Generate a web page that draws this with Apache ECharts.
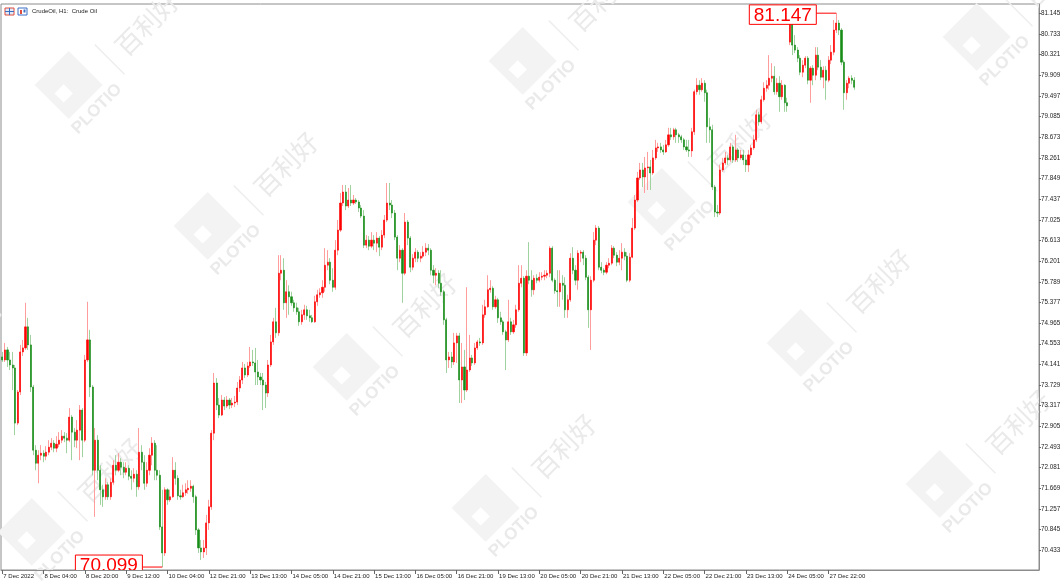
<!DOCTYPE html>
<html><head><meta charset="utf-8">
<script src="https://cdn.jsdelivr.net/npm/echarts@6/dist/echarts.min.js"></script>
<style>html,body{margin:0;padding:0;background:#fff}#c{width:1064px;height:586px}</style>
</head><body><div id="c"></div>
<script>
const tickLabels = ['7 Dec 2022','8 Dec 04:00','8 Dec 20:00','9 Dec 12:00','10 Dec 04:00','12 Dec 21:00','13 Dec 13:00','14 Dec 05:00','14 Dec 21:00','15 Dec 13:00','16 Dec 05:00','16 Dec 21:00','19 Dec 13:00','20 Dec 05:00','20 Dec 21:00','21 Dec 13:00','22 Dec 05:00','22 Dec 21:00','23 Dec 13:00','24 Dec 05:00','27 Dec 22:00'];
const yTicks = [70.433,70.845,71.257,71.669,72.081,72.493,72.905,73.317,73.729,74.141,74.553,74.965,75.377,75.789,76.201,76.613,77.025,77.437,77.849,78.261,78.673,79.085,79.497,79.909,80.321,80.733,81.145];

const opens = [
74.29,74.23,74.43,74.23,74.13,74.07,72.97,73.59,74.39,74.47,
74.89,74.53,73.69,72.43,72.17,72.33,72.37,72.31,72.39,72.49,
72.57,72.47,72.55,72.63,72.71,72.67,72.63,73.09,72.79,72.63,
72.83,73.23,72.63,74.23,74.63,73.69,72.03,72.63,72.03,71.64,
71.50,71.74,71.50,71.79,72.13,72.03,72.19,72.09,71.99,72.07,
71.91,71.87,71.95,71.70,72.39,72.19,71.77,72.03,72.33,72.57,
72.03,71.93,70.90,70.38,71.64,71.44,71.50,72.03,71.87,71.52,
71.50,71.58,71.64,71.67,71.71,71.50,70.84,70.48,70.40,70.48,
70.98,71.30,72.77,73.77,73.33,73.13,73.43,73.31,73.43,73.33,
73.37,73.39,73.67,73.83,74.07,73.93,74.11,74.19,74.17,73.99,
73.89,73.83,73.73,73.57,74.13,74.59,74.99,74.77,75.96,76.02,
75.37,75.59,75.49,75.37,75.27,75.19,74.99,75.13,75.23,75.11,
75.07,74.99,75.39,75.53,75.57,75.68,76.12,76.18,75.82,75.68,
76.42,76.82,77.36,77.58,77.30,77.42,77.36,77.42,77.38,77.26,
77.10,76.52,76.62,76.50,76.62,76.56,76.66,76.48,76.72,77.02,
77.36,77.32,77.16,76.68,76.26,76.42,75.96,76.98,76.66,76.08,
76.26,76.38,76.26,76.30,76.38,76.46,76.42,76.02,75.92,75.96,
75.76,75.59,75.03,74.23,74.29,74.19,74.57,74.71,73.83,74.09,
73.63,74.03,74.27,74.17,74.47,74.59,74.57,75.13,75.29,75.63,
75.66,75.29,75.43,75.07,74.99,74.79,74.63,74.99,74.79,74.93,
75.23,75.76,75.86,74.37,75.90,75.82,75.63,75.86,75.82,75.88,
75.90,75.92,75.96,76.46,75.82,75.61,75.59,75.76,75.72,75.23,
75.43,76.26,76.02,75.82,76.36,76.38,76.26,75.88,75.23,75.82,
76.62,76.86,76.08,76.02,75.98,76.12,76.16,76.46,76.32,76.18,
76.26,76.38,76.30,75.82,76.28,76.86,77.42,77.86,78.02,77.88,
78.06,78.08,77.96,78.26,78.46,78.48,78.42,78.38,78.52,78.72,
78.68,78.82,78.72,78.68,78.62,78.48,78.42,78.40,78.78,79.58,
79.71,79.62,79.75,79.56,78.88,78.82,77.68,77.18,77.16,78.02,
78.16,78.26,78.22,78.48,78.22,78.42,78.26,78.32,78.22,78.12,
78.32,78.46,78.62,79.12,78.98,79.42,79.65,79.71,79.85,79.89,
79.58,79.75,79.48,79.71,79.36,80.57,80.97,80.51,80.41,80.25,
79.97,80.11,80.25,79.81,80.05,79.91,80.31,80.07,79.87,80.01,
79.81,80.21,80.37,80.81,80.95,80.81,80.17,79.56,79.75,79.85,79.81];

const closes = [
74.23,74.43,74.23,74.13,74.07,72.97,73.59,74.39,74.47,74.89,
74.53,73.69,72.43,72.17,72.33,72.37,72.31,72.39,72.49,72.57,
72.47,72.55,72.63,72.71,72.67,72.63,73.09,72.79,72.63,72.83,
73.23,72.63,74.23,74.63,73.69,72.03,72.63,72.03,71.64,71.50,
71.74,71.50,71.79,72.13,72.03,72.19,72.09,71.99,72.07,71.91,
71.87,71.95,71.70,72.39,72.19,71.77,72.03,72.33,72.57,72.03,
71.93,70.90,70.38,71.64,71.44,71.50,72.03,71.87,71.52,71.50,
71.58,71.64,71.67,71.71,71.50,70.84,70.48,70.40,70.48,70.98,
71.30,72.77,73.77,73.33,73.13,73.43,73.31,73.43,73.33,73.37,
73.39,73.67,73.83,74.07,73.93,74.11,74.19,74.17,73.99,73.89,
73.83,73.73,73.57,74.13,74.59,74.99,74.77,75.96,76.02,75.37,
75.59,75.49,75.37,75.27,75.19,74.99,75.13,75.23,75.11,75.07,
74.99,75.39,75.53,75.57,75.68,76.12,76.18,75.82,75.68,76.42,
76.82,77.36,77.58,77.30,77.42,77.36,77.42,77.38,77.26,77.10,
76.52,76.62,76.50,76.62,76.56,76.66,76.48,76.72,77.02,77.36,
77.32,77.16,76.68,76.26,76.42,75.96,76.98,76.66,76.08,76.26,
76.38,76.26,76.30,76.38,76.46,76.42,76.02,75.92,75.96,75.76,
75.59,75.03,74.23,74.29,74.19,74.57,74.71,73.83,74.09,73.63,
74.03,74.27,74.17,74.47,74.59,74.57,75.13,75.29,75.63,75.66,
75.29,75.43,75.07,74.99,74.79,74.63,74.99,74.79,74.93,75.23,
75.76,75.86,74.37,75.90,75.82,75.63,75.86,75.82,75.88,75.90,
75.92,75.96,76.46,75.82,75.61,75.59,75.76,75.72,75.23,75.43,
76.26,76.02,75.82,76.36,76.38,76.26,75.88,75.23,75.82,76.62,
76.86,76.08,76.02,75.98,76.12,76.16,76.46,76.32,76.18,76.26,
76.38,76.30,75.82,76.28,76.86,77.42,77.86,78.02,77.88,78.06,
78.08,77.96,78.26,78.46,78.48,78.42,78.38,78.52,78.72,78.68,
78.82,78.72,78.68,78.62,78.48,78.42,78.40,78.78,79.58,79.71,
79.62,79.75,79.56,78.88,78.82,77.68,77.18,77.16,78.02,78.16,
78.26,78.22,78.48,78.22,78.42,78.26,78.32,78.22,78.12,78.32,
78.46,78.62,79.12,78.98,79.42,79.65,79.71,79.85,79.89,79.58,
79.75,79.48,79.71,79.36,79.30,80.97,80.51,80.41,80.25,79.97,
80.11,80.25,79.81,80.05,79.91,80.31,80.07,79.87,80.01,79.81,
80.21,80.37,80.81,80.95,80.81,80.17,79.56,79.75,79.85,79.81,79.67];

const highs = [
74.39,74.57,74.49,74.39,74.39,74.13,73.63,74.53,74.63,75.37,
75.07,74.73,73.73,72.53,72.43,72.53,72.43,72.51,72.63,72.67,
72.63,72.71,72.79,72.83,72.79,72.77,73.27,73.13,72.87,73.03,
73.33,73.27,74.33,75.39,74.83,73.73,72.87,72.73,72.13,71.74,
71.87,71.79,71.87,72.23,72.33,72.37,72.27,72.19,72.19,72.13,
72.03,72.07,72.03,72.87,72.53,72.33,72.19,72.47,72.69,72.63,
72.53,72.03,71.64,71.69,71.67,71.64,72.29,72.19,71.93,71.64,
71.74,71.77,71.83,71.83,71.74,71.54,70.88,70.64,70.64,71.14,
71.44,72.83,73.97,73.87,73.47,73.53,73.49,73.51,73.47,73.47,
73.51,73.79,73.91,74.19,74.15,74.19,74.49,74.43,74.47,74.23,
73.97,73.97,73.79,74.23,74.73,75.07,75.27,76.32,76.32,76.26,
75.82,75.72,75.59,75.43,75.37,75.27,75.23,75.33,75.31,75.23,
75.13,75.51,75.63,75.66,75.82,76.46,76.42,76.26,76.06,76.62,
77.02,77.56,77.72,77.72,77.66,77.72,77.52,77.46,77.42,77.32,
77.22,76.72,76.70,76.78,76.72,76.78,76.70,76.82,77.12,77.76,
77.76,77.42,77.22,76.72,76.52,76.46,77.16,77.02,76.70,76.34,
76.46,76.42,76.38,76.50,76.56,76.54,76.46,76.12,76.06,76.02,
76.02,75.63,75.07,74.39,74.39,74.77,74.77,74.77,74.57,74.43,
75.68,74.73,74.33,74.57,74.63,74.67,75.33,75.43,75.92,75.82,
75.70,75.51,75.47,75.19,75.03,74.83,75.43,75.07,75.03,75.33,
76.12,76.12,75.90,76.02,76.58,76.02,75.92,75.94,75.98,75.98,
76.02,76.02,76.50,76.50,75.86,76.02,76.02,75.92,75.88,75.53,
76.36,76.48,76.12,76.42,76.42,76.42,76.32,75.92,75.90,76.78,
76.92,76.90,76.18,76.06,76.18,76.26,76.52,76.50,76.38,76.42,
76.56,76.46,76.38,76.36,77.06,77.52,77.98,78.16,78.16,78.28,
78.38,78.22,78.42,78.62,78.56,78.56,78.52,78.62,78.86,78.86,
78.86,78.86,78.76,78.72,78.66,78.62,78.62,78.86,79.62,79.85,
79.81,79.85,79.81,79.62,79.06,78.92,77.72,77.32,78.12,78.26,
78.38,78.32,78.56,78.52,78.72,78.46,78.42,78.42,78.32,78.42,
78.52,78.72,79.22,79.18,79.50,79.77,79.81,80.31,80.15,80.09,
79.85,79.89,79.81,79.73,79.46,81.01,81.01,80.71,80.47,80.31,
80.21,80.29,80.29,80.09,80.11,80.47,80.47,80.21,80.09,80.09,
80.29,80.51,81.01,81.147,81.01,80.85,80.21,79.81,79.89,79.91,79.87];

const lows = [
74.19,74.19,74.09,74.03,73.63,72.73,72.93,73.53,74.31,74.43,
74.43,73.59,72.33,72.03,71.77,72.23,72.19,72.23,72.33,72.43,
72.39,72.39,72.49,72.57,72.59,72.37,72.59,72.23,72.49,72.47,
72.23,72.29,72.59,74.19,73.49,71.93,71.10,71.83,71.34,71.30,
71.44,71.44,71.44,71.74,71.93,71.99,71.93,71.87,71.93,71.83,
71.64,71.79,71.50,71.64,72.03,71.64,71.70,71.93,72.13,71.83,
71.83,70.84,70.099,70.32,71.34,71.40,71.48,71.74,71.44,71.44,
71.48,71.52,71.56,71.60,71.38,70.74,70.38,70.24,70.28,70.34,
70.84,71.24,72.63,73.23,73.07,73.11,73.23,73.27,73.25,73.27,
73.29,73.33,73.59,73.75,73.87,73.89,74.07,74.11,73.73,73.73,
73.73,73.23,73.27,73.49,74.09,74.53,74.67,74.71,75.82,75.23,
75.07,75.13,75.31,75.19,75.13,74.91,74.93,75.03,75.03,74.99,
74.97,74.97,75.31,75.47,75.47,75.59,76.02,75.74,75.59,75.63,
76.32,76.78,77.30,77.22,77.26,77.30,77.32,77.34,77.18,77.06,
76.46,76.46,76.42,76.46,76.42,76.38,76.30,76.42,76.66,76.98,
77.22,77.06,76.62,76.02,76.18,75.37,75.92,76.52,75.98,76.02,
76.18,76.18,76.18,76.26,76.30,76.32,75.92,75.76,75.72,75.66,
75.51,74.93,73.97,74.07,74.07,74.13,74.17,73.37,73.37,73.43,
73.59,73.99,74.11,74.13,74.43,74.51,74.53,75.07,75.27,75.57,
75.23,75.25,74.97,74.93,74.73,74.03,74.59,74.73,74.75,74.87,
75.19,75.68,74.31,74.31,75.74,75.49,75.53,75.76,75.78,75.82,
75.82,75.86,75.88,75.78,75.55,75.29,75.29,75.43,75.07,75.07,
75.39,75.94,75.72,75.63,76.18,76.12,75.82,74.87,74.43,75.78,
76.52,76.02,75.96,75.92,75.94,76.06,76.12,76.26,76.10,76.12,
76.02,76.22,75.78,75.78,76.26,76.82,77.38,77.82,77.68,77.56,
77.62,77.62,77.92,78.22,78.38,78.36,78.32,78.36,78.48,78.62,
78.62,78.56,78.56,78.56,78.42,78.38,78.28,78.28,78.72,79.52,
79.52,79.58,79.38,78.56,78.56,77.62,77.08,77.08,77.12,77.98,
78.12,78.12,78.18,78.16,78.18,78.18,78.22,78.12,77.98,77.98,
78.26,78.42,78.58,78.90,78.94,79.38,79.58,79.62,79.77,79.52,
79.52,79.18,79.42,79.18,79.18,80.51,80.31,80.35,80.17,79.91,
79.87,80.05,79.73,79.36,79.71,79.81,80.01,79.81,79.65,79.42,
79.77,80.13,80.31,80.75,80.71,80.11,79.22,79.42,79.65,79.73,79.62];

const BARS_PER_LABEL = 16;
const SLOTS = 402;           // visible bar slots incl. empty right margin
const Y_MIN = 70.04, Y_MAX = 81.33;

const cats = Array.from({length: SLOTS}, (_, i) => String(i));
const showTick = (i) => i % BARS_PER_LABEL === 0 && (i / BARS_PER_LABEL) < tickLabels.length;

const fullData = opens.map((o, i) => [o, closes[i], lows[i], highs[i]]);
const bodyData = opens.map((o, i) => [o, closes[i], Math.min(o, closes[i]), Math.max(o, closes[i])]);

const minVal = Math.min(...lows), maxVal = Math.max(...highs);
const extremes = [[lows.indexOf(minVal), minVal, 0], [highs.indexOf(maxVal), maxVal, 1]];

// decorative watermark tiles (text-centre anchors)
const wmTiles = [[-47,-37],[92,104],[231,245],[370,386],[509,527],[407,-61],[546,80],[685,221],[824,362],[963,503],[861,-85],[1000,56],[-84,410],[55,551],[1139,197]];
const wmText = '#eaeaea';
const graphics = [];
wmTiles.forEach(([x, y]) => {
  graphics.push({
    type: 'group', x, y, rotation: Math.PI / 4, silent: true, z: 0,
    children: [
      {type: 'rect', shape: {x: -27, y: -54, width: 48, height: 48}, style: {fill: '#f3f3f3'}},
      {type: 'rect', shape: {x: -19, y: -34, width: 13, height: 13}, style: {fill: '#ffffff'}},
      {type: 'text', x: 0, y: 7, style: {text: 'PLOTIO', font: 'bold 17px "Liberation Sans"', fill: wmText, align: 'center', verticalAlign: 'middle'}},
      {type: 'line', shape: {x1: 44, y1: -40, x2: 44, y2: 2}, style: {stroke: '#eeeeee', lineWidth: 1.5}},
      {type: 'text', x: 57, y: -18, style: {text: '百利好', font: '26px "Noto Sans CJK SC"', fill: wmText, align: 'left', verticalAlign: 'middle'}}
    ]
  });
});
// small toolbar icons next to the title
graphics.push({type: 'rect', shape: {x: 5, y: 8, width: 9, height: 7}, style: {fill: '#dfe9f7', stroke: '#e04a3a', lineWidth: 1}, z: 5});
graphics.push({type: 'line', shape: {x1: 5, y1: 11.5, x2: 14, y2: 11.5}, style: {stroke: '#3a6fc4', lineWidth: 1}, z: 5});
graphics.push({type: 'line', shape: {x1: 9.5, y1: 8, x2: 9.5, y2: 15}, style: {stroke: '#3a6fc4', lineWidth: 1}, z: 5});
graphics.push({type: 'rect', shape: {x: 18, y: 8, width: 9, height: 7}, style: {fill: '#ffffff', stroke: '#3a6fc4', lineWidth: 1}, z: 5});
graphics.push({type: 'rect', shape: {x: 20, y: 10, width: 2, height: 4}, style: {fill: '#e04a3a'}, z: 6});
graphics.push({type: 'rect', shape: {x: 23.5, y: 9.5, width: 2, height: 3}, style: {fill: '#3a6fc4'}, z: 6});

const chart = echarts.init(document.getElementById('c'), null, {renderer: 'canvas'});
chart.setOption({
  animation: false,
  backgroundColor: '#ffffff',
  title: {text: 'CrudeOil, H1:  Crude Oil', left: 32, top: 8, padding: 0,
    textStyle: {fontSize: 6, fontWeight: 'normal', color: '#222', fontFamily: 'Liberation Sans'}},
  graphic: {elements: graphics},
  grid: {left: 1, right: 25, top: 4, bottom: 16, show: true, borderColor: '#8c8c8c', borderWidth: 1, containLabel: false},
  xAxis: {
    type: 'category', data: cats, boundaryGap: true,
    axisLine: {show: true, lineStyle: {color: '#8c8c8c', width: 1}},
    axisTick: {show: true, alignWithLabel: true, interval: (i) => showTick(i), length: 4, lineStyle: {color: '#666'}},
    axisLabel: {show: true, interval: (i) => showTick(i), formatter: (v, i) => tickLabels[i / BARS_PER_LABEL],
      align: 'left', margin: 3, fontSize: 6, color: '#222', fontFamily: 'Liberation Sans', padding: [0, 0, 0, 1]},
    splitLine: {show: false}
  },
  yAxis: {
    type: 'value', position: 'right', min: Y_MIN, max: Y_MAX, scale: true,
    axisLine: {show: true, lineStyle: {color: '#8c8c8c', width: 1}},
    axisTick: {show: true, customValues: yTicks, length: 2, lineStyle: {color: '#666'}},
    axisLabel: {show: true, customValues: yTicks, formatter: (v) => v.toFixed(3), margin: 2, fontSize: 6.3, color: '#222', fontFamily: 'Liberation Sans'},
    splitLine: {show: false}
  },
  series: [
    {
      type: 'candlestick', name: 'wicks', data: fullData, barWidth: 1, silent: true, z: 2,
      itemStyle: {color: '#ff9c9c', color0: '#9fd29f', borderColor: '#ff9c9c', borderColor0: '#9fd29f', borderWidth: 1}
    },
    {
      type: 'candlestick', name: 'bodies', data: bodyData, barWidth: 1.6, silent: true, z: 3,
      itemStyle: {color: '#ff0000', color0: '#178c17', borderColor: '#ff0000', borderColor0: '#178c17', borderWidth: 0.6}
    },
    {
      type: 'custom', name: 'extremes', data: extremes, clip: true, z: 10, silent: true,
      renderItem: (params, api) => {
        const p = api.coord([api.value(0), api.value(1)]);
        const isMax = api.value(2) === 1;
        const right = p[0] - 20, left = right - 67, h = 19.5;
        const top = isMax ? p[1] - 8.3 : p[1] - 12;
        return {type: 'group', children: [
          {type: 'line', shape: {x1: right, y1: p[1], x2: p[0], y2: p[1]}, style: {stroke: '#ff0000', lineWidth: 1}},
          {type: 'rect', shape: {x: left, y: top, width: right - left, height: h}, style: {fill: '#ffffff', stroke: '#ff0000', lineWidth: 1}},
          {type: 'text', style: {x: (left + right) / 2, y: top + h / 2 + 1, text: api.value(1).toFixed(3), fill: '#ff0000', font: '19px "Liberation Sans"', align: 'center', verticalAlign: 'middle'}}
        ]};
      }
    }
  ]
});
</script>
</body></html>
